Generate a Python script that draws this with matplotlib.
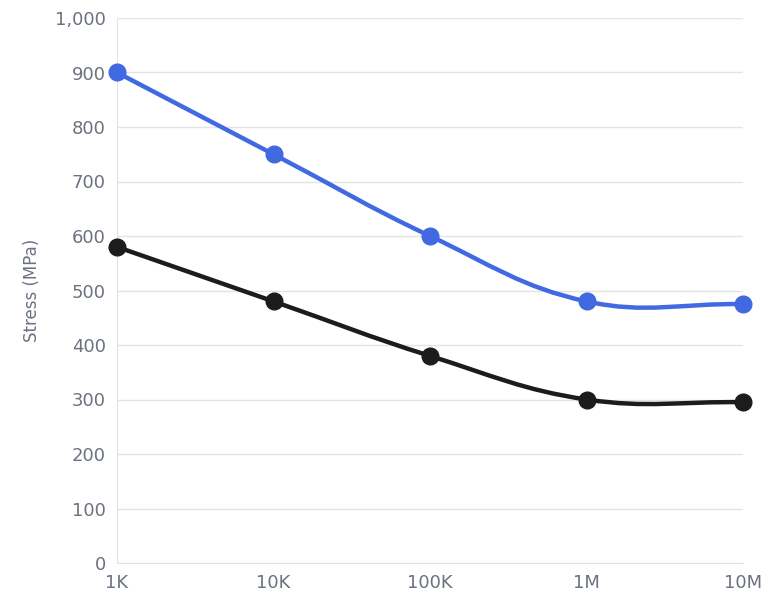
import numpy as np
import matplotlib
matplotlib.use('Agg')
import matplotlib.pyplot as plt
from matplotlib.path import Path
from matplotlib.patches import PathPatch

cycles = ['1K', '10K', '100K', '1M', '10M']
stress_blue = [900, 750, 600, 480, 475]
stress_black = [580, 480, 380, 300, 295]

W_PX, H_PX = 626.0, 545.0   # plot area size, used to shape the spline


def spline_path(xs, ys, tension=0.4):
    # bezier spline like chart.js, computed in pixel-ish space
    px = np.array(xs, float) * W_PX / (len(xs) - 1)
    py = np.array(ys, float) * H_PX / 1000.0
    n = len(px)
    c_prev = [None] * n
    c_next = [None] * n
    for i in range(n):
        p0 = (px[max(i - 1, 0)], py[max(i - 1, 0)])
        p1 = (px[i], py[i])
        p2 = (px[min(i + 1, n - 1)], py[min(i + 1, n - 1)])
        d01 = np.hypot(p1[0] - p0[0], p1[1] - p0[1])
        d12 = np.hypot(p2[0] - p1[0], p2[1] - p1[1])
        s = d01 + d12
        fa = tension * d01 / s if s else 0
        fb = tension * d12 / s if s else 0
        c_prev[i] = (p1[0] - fa * (p2[0] - p0[0]), p1[1] - fa * (p2[1] - p0[1]))
        c_next[i] = (p1[0] + fb * (p2[0] - p0[0]), p1[1] + fb * (p2[1] - p0[1]))
    back = lambda p: (p[0] * (n - 1) / W_PX, p[1] * 1000.0 / H_PX)
    verts = [back((px[0], py[0]))]
    codes = [Path.MOVETO]
    for i in range(1, n):
        verts += [back(c_next[i - 1]), back(c_prev[i]), back((px[i], py[i]))]
        codes += [Path.CURVE4] * 3
    return Path(verts, codes)


fig = plt.figure(figsize=(7.68, 6.14), dpi=100)
ax = fig.add_axes([117 / 768, 51 / 614, 626 / 768, 545 / 614])

x = np.arange(len(cycles))
for vals, col in [(stress_black, '#1c1c1c'), (stress_blue, '#4169e1')]:
    ax.add_patch(PathPatch(spline_path(x, vals), facecolor='none', edgecolor=col, lw=3.2, zorder=3))
    ax.plot(x, vals, 'o', color=col, ms=12, zorder=4, clip_on=False)

ax.set_xlim(0, 4)
ax.set_ylim(0, 1000)
ax.set_yticks(range(0, 1001, 100))
ax.set_yticklabels(['{:,}'.format(v) for v in range(0, 1001, 100)])
ax.set_xticks(x)
ax.set_xticklabels(cycles)
ax.grid(axis='y', color='#e3e3e3', lw=1)
ax.set_axisbelow(True)
for s in ['top', 'right']:
    ax.spines[s].set_visible(False)
ax.spines['left'].set_color('#e3e3e3')
ax.spines['bottom'].set_color('#e3e3e3')
ax.tick_params(colors='#6b7280', labelsize=13, length=0, pad=8)
ax.tick_params(axis='y', labelcolor='#6b7280')
ax.set_ylabel('Stress (MPa)', color='#6b7280', fontsize=12, labelpad=10)

fig.savefig('out.png')
